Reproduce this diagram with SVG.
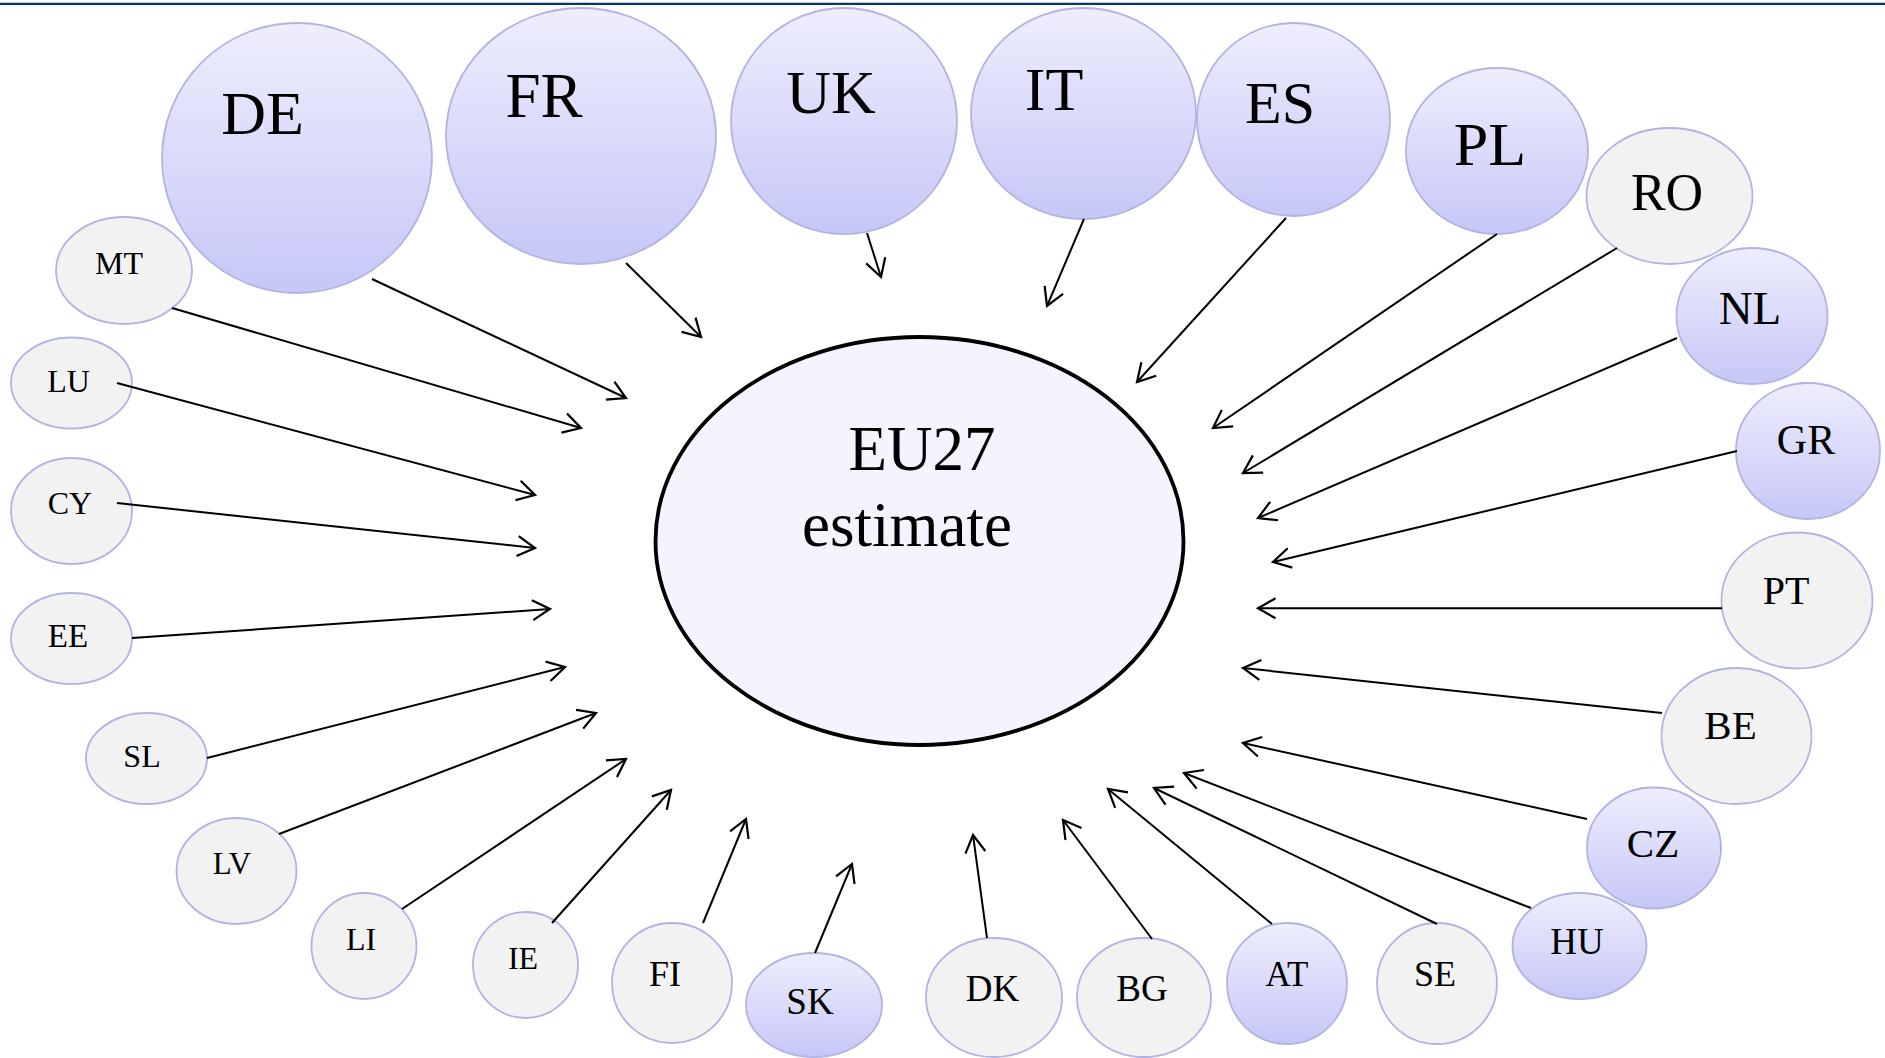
<svg xmlns="http://www.w3.org/2000/svg" width="1885" height="1058" viewBox="0 0 1885 1058">
<defs>
<linearGradient id="lav" x1="0" y1="0" x2="0" y2="1">
<stop offset="0" stop-color="#eeeefd"/>
<stop offset="1" stop-color="#c7c7f8"/>
</linearGradient>
<marker id="arr" markerUnits="userSpaceOnUse" markerWidth="40" markerHeight="40" viewBox="-30 -20 40 40" refX="0" refY="0" orient="auto" overflow="visible">
<path d="M-17.5,-10 L0,0 L-17.5,10" fill="none" stroke="#000" stroke-width="2.2"/>
</marker>
<style>
.l{fill:url(#lav);stroke:#b3b3e3;stroke-width:1.8}
.g{fill:#f2f2f2;stroke:#b3b3e3;stroke-width:1.8}
.t{font-family:"Liberation Serif","Times New Roman",serif;fill:#000;text-anchor:middle}
.c line{stroke:#000;stroke-width:2;marker-end:url(#arr)}
</style>
</defs>
<rect width="1885" height="1058" fill="#fff"/>
<line x1="0" y1="3.8" x2="1885" y2="3.8" stroke="#0a3468" stroke-width="2.2"/>
<g id="EU27"><ellipse cx="919.5" cy="541" rx="264" ry="204" fill="#f4f4fe" stroke="#000" stroke-width="3.8"/>
<text class="t" x="922" y="470" font-size="63">EU27</text>
<text class="t" x="907" y="546" font-size="63">estimate</text></g>
<g id="DE"><ellipse class="l" cx="297" cy="158" rx="135" ry="135"/><text class="t" x="262.5" y="134" font-size="62">DE</text></g>
<g id="FR"><ellipse class="l" cx="581" cy="136" rx="135" ry="128"/><text class="t" x="544" y="117" font-size="63">FR</text></g>
<g id="UK"><ellipse class="l" cx="844" cy="121" rx="113" ry="113"/><text class="t" x="831" y="113" font-size="62">UK</text></g>
<g id="IT"><ellipse class="l" cx="1083.5" cy="113.5" rx="112.5" ry="105.5"/><text class="t" x="1054" y="110" font-size="62">IT</text></g>
<g id="ES"><ellipse class="l" cx="1293.5" cy="119.5" rx="96.5" ry="96.5"/><text class="t" x="1280" y="123" font-size="60">ES</text></g>
<g id="PL"><ellipse class="l" cx="1497" cy="151" rx="91" ry="83"/><text class="t" x="1490" y="165" font-size="62">PL</text></g>
<g id="RO"><ellipse class="g" cx="1669.5" cy="196" rx="83" ry="68"/><text class="t" x="1667" y="210" font-size="52">RO</text></g>
<g id="NL"><ellipse class="l" cx="1752" cy="316" rx="75.5" ry="68"/><text class="t" x="1750" y="324" font-size="47">NL</text></g>
<g id="GR"><ellipse class="l" cx="1808" cy="451" rx="72" ry="68"/><text class="t" x="1806" y="454" font-size="42">GR</text></g>
<g id="PT"><ellipse class="g" cx="1797" cy="600.5" rx="75.5" ry="68"/><text class="t" x="1786" y="604" font-size="40">PT</text></g>
<g id="BE"><ellipse class="g" cx="1736.5" cy="736" rx="75" ry="68"/><text class="t" x="1730.5" y="738.5" font-size="41">BE</text></g>
<g id="CZ"><ellipse class="l" cx="1654" cy="848" rx="67" ry="60.5"/><text class="t" x="1653" y="857" font-size="41">CZ</text></g>
<g id="HU"><ellipse class="l" cx="1579.5" cy="946" rx="67" ry="53"/><text class="t" x="1577" y="954" font-size="37">HU</text></g>
<g id="SE"><ellipse class="g" cx="1437" cy="983.5" rx="60" ry="60.5"/><text class="t" x="1435" y="986" font-size="36">SE</text></g>
<g id="AT"><ellipse class="l" cx="1287" cy="983.5" rx="60" ry="60.5"/><text class="t" x="1287" y="986" font-size="35">AT</text></g>
<g id="BG"><ellipse class="g" cx="1144" cy="997.5" rx="67" ry="59.5"/><text class="t" x="1142" y="1001" font-size="37">BG</text></g>
<g id="DK"><ellipse class="g" cx="994" cy="997.5" rx="68" ry="59.5"/><text class="t" x="992.5" y="1001" font-size="37">DK</text></g>
<g id="SK"><ellipse class="l" cx="814" cy="1005" rx="68" ry="52"/><text class="t" x="810" y="1014" font-size="37">SK</text></g>
<g id="FI"><ellipse class="g" cx="672" cy="983" rx="60" ry="60"/><text class="t" x="665" y="986" font-size="36">FI</text></g>
<g id="IE"><ellipse class="g" cx="525.5" cy="965" rx="52.5" ry="53"/><text class="t" x="523" y="968.5" font-size="32">IE</text></g>
<g id="LI"><ellipse class="g" cx="364" cy="946" rx="52.5" ry="53"/><text class="t" x="361" y="950" font-size="32">LI</text></g>
<g id="LV"><ellipse class="g" cx="236.5" cy="871" rx="60" ry="53"/><text class="t" x="232" y="874" font-size="31">LV</text></g>
<g id="SL"><ellipse class="g" cx="146.5" cy="758.5" rx="60.5" ry="45.5"/><text class="t" x="142" y="767" font-size="32">SL</text></g>
<g id="EE"><ellipse class="g" cx="71.5" cy="638.5" rx="60.5" ry="45.5"/><text class="t" x="68" y="647" font-size="33">EE</text></g>
<g id="CY"><ellipse class="g" cx="71.5" cy="511" rx="60.5" ry="53"/><text class="t" x="70" y="514" font-size="32">CY</text></g>
<g id="LU"><ellipse class="g" cx="71.5" cy="383" rx="60.5" ry="45.5"/><text class="t" x="68.5" y="392" font-size="32">LU</text></g>
<g id="MT"><ellipse class="g" cx="124" cy="270.5" rx="68" ry="53.5"/><text class="t" x="119" y="274" font-size="32">MT</text></g>
<g class="c" id="connectors">
<line x1="372" y1="279" x2="626" y2="398"/>
<line x1="626" y1="263" x2="701" y2="337"/>
<line x1="867" y1="233" x2="881" y2="277"/>
<line x1="1084" y1="219" x2="1047" y2="306"/>
<line x1="1286" y1="218" x2="1137" y2="382"/>
<line x1="1497" y1="234" x2="1213" y2="428"/>
<line x1="1617" y1="248" x2="1243" y2="473"/>
<line x1="1677" y1="338" x2="1258" y2="518"/>
<line x1="1737" y1="451" x2="1273" y2="562"/>
<line x1="1722" y1="608.3" x2="1258" y2="608.3"/>
<line x1="1662" y1="713" x2="1243" y2="668"/>
<line x1="1587" y1="819" x2="1243" y2="743"/>
<line x1="1531" y1="908" x2="1184" y2="773"/>
<line x1="1437" y1="924" x2="1154" y2="788"/>
<line x1="1272" y1="924" x2="1108" y2="789"/>
<line x1="1152" y1="939" x2="1063" y2="820"/>
<line x1="987" y1="938" x2="973" y2="835"/>
<line x1="815" y1="953" x2="852" y2="864"/>
<line x1="703" y1="923" x2="746" y2="819"/>
<line x1="552" y1="923" x2="671" y2="790"/>
<line x1="402" y1="909" x2="626" y2="759"/>
<line x1="279" y1="834" x2="596" y2="713"/>
<line x1="207" y1="758" x2="565" y2="667"/>
<line x1="132" y1="638" x2="550" y2="609"/>
<line x1="117" y1="503" x2="535" y2="548"/>
<line x1="117" y1="383" x2="535" y2="495"/>
<line x1="172" y1="308" x2="581" y2="428"/>
</g>
</svg>
